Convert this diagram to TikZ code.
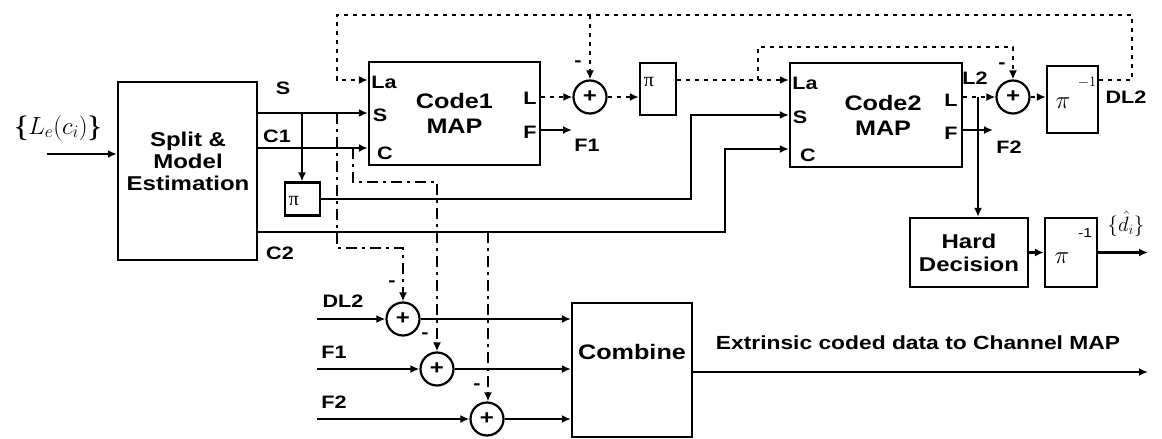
\documentclass[tikz,border=0pt]{standalone}
\usepackage{amsmath}
\usepackage[no-math]{fontspec}
\setmainfont{Liberation Sans}[FakeStretch=1.2]
\newfontfamily\grk{Liberation Serif}
\usetikzlibrary{arrows.meta,calc}
\newcommand\myfs[1]{\fontsize{#1}{#1}\selectfont}
\begin{document}
\begin{tikzpicture}[x=1pt,y=-1pt,
  box/.style={draw,line width=2.3pt,inner sep=0pt,font=\bfseries\myfs{20}},
  sumc/.style={draw,circle,line width=2.2pt,minimum size=33pt,inner sep=0pt,font=\bfseries\myfs{20}},
  ln/.style={line width=2.2pt},
  arr/.style={ln,-{Latex[length=9pt,width=8pt]}},
  dsh/.style={dash pattern=on 4pt off 5pt},
  ddot/.style={dash pattern=on 11pt off 5pt on 3pt off 5pt},
  lab/.style={inner sep=0pt,font=\bfseries\myfs{18}},
  port/.style={inner sep=0pt,font=\bfseries\myfs{18}},
  ]
\useasboundingbox (0,0) rectangle (1162,439);

% blocks
\node[box,minimum width=139pt,minimum height=178pt] (split) at (187.5,171) {};
\node[lab,font=\bfseries\myfs{20},align=center] (splitt) at (188,161) {Split \&\\[2pt]Model\\[2pt]Estimation};
\node[box,minimum width=171pt,minimum height=103pt,font=\bfseries\myfs{21},align=center] (code1) at (454.5,113.5) {Code1\\[4pt]MAP};
\node[box,minimum width=172pt,minimum height=104pt] (code2) at (876,115) {};
\node[lab,font=\bfseries\myfs{21},align=center] (code2t) at (883,115) {Code2\\[4pt]MAP};
\node[box,minimum width=35pt,minimum height=33pt] (pi1) at (302.5,199) {};
\node[box,minimum width=36pt,minimum height=52pt] (pi2) at (658,89) {};
\node[box,minimum width=51pt,minimum height=67pt] (pinv1) at (1072.5,99.5) {};
\node[box,minimum width=118pt,minimum height=69pt,font=\bfseries\myfs{20},align=center] (hd) at (969,252.5) {Hard\\[3pt]Decision};
\node[box,minimum width=52pt,minimum height=69pt] (pinv2) at (1071,252.5) {};
\node[box,minimum width=120pt,minimum height=134pt] (comb) at (632,370) {};
\node[lab,font=\bfseries\myfs{21}] (combt) at (632,352) {Combine};

% sums
\node[sumc] (s1) at (590,97) {+};
\node[sumc] (s2) at (1013,97) {+};
\node[sumc] (s3) at (403,319) {+};
\node[sumc] (s4) at (437,369) {+};
\node[sumc] (s5) at (487,419) {+};

% pi texts
\node[inner sep=0pt,font=\grk\myfs{20}] (pi1t) at (294,201) {π};
\node[inner sep=0pt,font=\grk\myfs{20}] (pi2t) at (649,82) {π};
\node[inner sep=0pt,font=\myfs{30}] (pinv1t) at (1063,103) {$\pi$};
\node[inner sep=0pt,font=\myfs{14}] (pinv1e) at (1087,82) {$-1$};
\node[inner sep=0pt,font=\myfs{30}] (pinv2t) at (1062,258) {$\pi$};
\node[inner sep=0pt,font=\myfs{13}] (pinv2e) at (1085,233) {-1};

% labels
\node[inner sep=0pt,font=\myfs{26}] (inl) at (58,128) {$\boldsymbol{\{}L_e(c_i)\boldsymbol{\}}$};
\node[lab] (lS) at (283,88) {S};
\node[lab] (lC1) at (277,136) {C1};
\node[lab] (lC2) at (280,253) {C2};
\node[port] (c1La) at (384,82) {La};
\node[port] (c1S) at (380,115) {S};
\node[port] (c1C) at (385,153) {C};
\node[port] (c1L) at (530,98) {L};
\node[port] (c1F) at (530,132) {F};
\node[lab] (lF1) at (587,145) {F1};
\node[port] (c2La) at (805,83) {La};
\node[port] (c2S) at (800,117) {S};
\node[port] (c2C) at (808,155) {C};
\node[port] (c2L2) at (975,78) {L2};
\node[port] (c2L) at (951,100) {L};
\node[port] (c2F) at (951,133) {F};
\node[lab] (lF2) at (1009,147) {F2};
\node[lab] (lDL2) at (1126,97) {DL2};
\node[inner sep=0pt,font=\myfs{22}] (dhat) at (1126,224) {$\{\hat{d}_i\}$};
\node[lab] (bDL2) at (343,301) {DL2};
\node[lab] (bF1) at (334,352) {F1};
\node[lab] (bF2) at (334,402) {F2};
\node[lab,font=\bfseries\myfs{19}] (ext) at (918,343) {Extrinsic coded data to Channel MAP};
\node[lab] (m1) at (578,64) {-};
\node[lab] (m2) at (1002,66) {-};
\node[lab] (m3) at (392,284) {-};
\node[lab] (m4) at (425,336) {-};
\node[lab] (m5) at (477,387) {-};

% coordinates
\coordinate (in) at (47,154);
\coordinate (yS) at (0,113);
\coordinate (yC) at (0,148);
\coordinate (yLa) at (0,80);
\coordinate (tapS) at (302,113);
\coordinate (b2) at (691,115);
\coordinate (c2y) at (0,232);
\coordinate (c2b) at (725,149);
\coordinate (f1e) at (572,130);
\coordinate (pjo) at (758,80);
\coordinate (tq) at (1013,47);
\coordinate (hv) at (978,97);
\coordinate (f2e) at (993,130);
\coordinate (lp1) at (1132,15);
\coordinate (lp2) at (337,15);
\coordinate (br1) at (590,15);
\coordinate (dout) at (1148,252.5);
\coordinate (i1) at (317,319);
\coordinate (i2) at (317,369);
\coordinate (i3) at (317,419);
\coordinate (dd1a) at (337,113);
\coordinate (dd1b) at (403,248);
\coordinate (dd2a) at (353,148);
\coordinate (dd2b) at (437,182);
\coordinate (dd3a) at (488,232);
\coordinate (co) at (1148,372);

% solid connectors
\draw[arr] (in) -- (split.west |- in);
\draw[arr] (split.east |- yS) -- (code1.west |- yS);
\draw[arr] (split.east |- yC) -- (code1.west |- yC);
\draw[arr] (tapS) -- (pi1.north -| tapS);
\draw[arr] (pi1.east) -| (b2) -- (code2.west |- b2);
\draw[arr] (split.east |- c2y) -| (c2b) -- (code2.west |- c2b);
\draw[arr] (code1.east |- f1e) -- (f1e);
\draw[arr] (code2.east |- f2e) -- (f2e);
\draw[arr] (hv) -- (hd.north -| hv);
\draw[arr] (hd.east) -- (pinv2.west);
\draw[arr] (pinv2.east) -- (dout);
\draw[arr] (i1) -- (s3.west);
\draw[arr] (i2) -- (s4.west);
\draw[arr] (i3) -- (s5.west);
\draw[arr] (s3.east) -- (comb.west |- s3);
\draw[arr] (s4.east) -- (comb.west |- s4);
\draw[arr] (s5.east) -- (comb.west |- s5);
\draw[arr] (comb.east |- co) -- (co);

% dashed connectors
\draw[arr,dsh] (code1.east |- s1) -- (s1.west);
\draw[arr,dsh] (s1.east) -- (pi2.west |- s1);
\draw[arr,dsh] (pi2.east |- pjo) -- (code2.west |- pjo);
\draw[arr,dsh] (pjo) |- (tq) -- (s2.north);
\draw[arr,dsh] (code2.east |- s2) -- (s2.west);
\draw[arr,dsh] (s2.east) -- (pinv1.west |- s2);
\draw[arr,dsh] (pinv1.east |- yLa) -| (lp1) -- (lp2) |- (code1.west |- yLa);
\draw[arr,dsh] (br1) -- (s1.north);

% dash-dot connectors
\draw[arr,ddot] (dd1a) |- (dd1b) -- (s3.north);
\draw[arr,ddot] (dd2a) |- (dd2b) -- (s4.north);
\draw[arr,ddot] (dd3a) -- (s5.north -| dd3a);
\end{tikzpicture}
\end{document}
